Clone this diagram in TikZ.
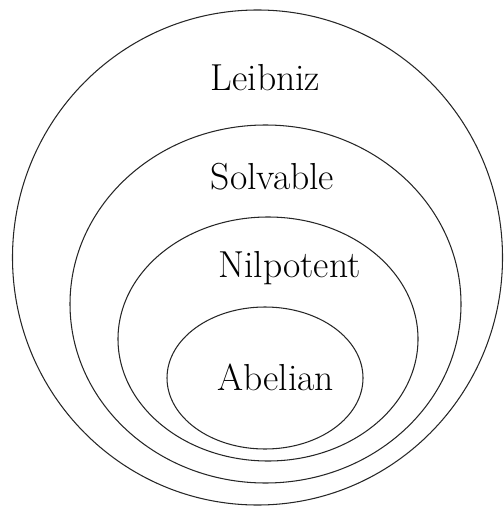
\documentclass[tikz,border=0pt]{standalone}
\usepackage{fontspec}
\begin{document}
\begin{tikzpicture}[x=0.02cm,y=-0.02cm,
  setring/.style={draw=black!85,line width=0.6pt},
  setlabel/.style={anchor=base,inner sep=0pt,font=\fontsize{21.4}{25}\selectfont}]
\useasboundingbox (0,0) rectangle (503,506);
\draw[setring] (257.5,257.5) ellipse [x radius=245, y radius=247.5];
\draw[setring] (265.5,304) ellipse [x radius=195.5, y radius=179];
\draw[setring] (268,339) ellipse [x radius=150, y radius=122];
\draw[setring] (265,378) ellipse [x radius=98, y radius=71];
\node[setlabel] (leibniz) at (265.5,91) {Leibniz};
\node[setlabel] (solvable) at (272.5,190) {Solvable};
\node[setlabel] (nilpotent) at (289.5,277) {Nilpotent};
\node[setlabel] (abelian) at (275.5,390) {Abelian};
\end{tikzpicture}
\end{document}
